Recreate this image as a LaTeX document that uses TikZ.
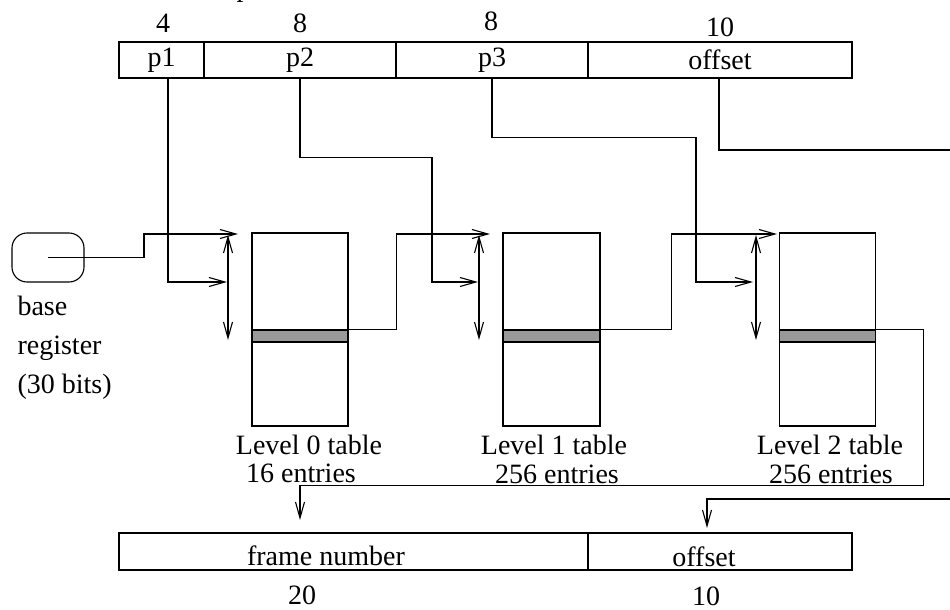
\documentclass[tikz,border=0pt]{standalone}
\usepackage{fontspec}
\setmainfont{Liberation Serif}
\usetikzlibrary{arrows.meta,positioning}

\begin{document}
\begin{tikzpicture}[x=1pt,y=-1pt,>={Straight Barb[length=16pt,width=9pt]},line width=1.1pt,
  fld/.style={draw,minimum height=36pt,inner sep=0pt,font=\fontsize{28}{29}\selectfont},
  tbl/.style={draw,minimum width=96pt,minimum height=193pt,inner sep=0pt},
  row/.style={draw,fill=black!40,minimum width=96pt,minimum height=12pt,inner sep=0pt},
  lbl/.style={font=\fontsize{28}{29}\selectfont,inner sep=0pt,anchor=base}]
\useasboundingbox (0,0) rectangle (950,610);
\node[lbl,anchor=base west] (ttl) at (236,-3) {p};
% virtual address
\node[fld,minimum width=85pt] (p1f) at (161.5,60) {p1};
\node[fld,minimum width=192pt] (p2f) at (300,60) {p2};
\node[fld,minimum width=192pt] (p3f) at (492,60) {p3};
\node[fld,minimum width=264pt] (offf) at (720,60) {offset};
\node[lbl] (w1) at (163,33) {4};
\node[lbl] (w2) at (300,33) {8};
\node[lbl] (w3) at (491,31) {8};
\node[lbl] (w4) at (720,37) {10};
% base register
\node[draw,rounded corners=15pt,minimum width=72pt,minimum height=49pt,inner sep=0pt] (base) at (48,257.5) {};
\node[lbl,anchor=base west] (bl1) at (17,315) {base};
\node[lbl,anchor=base west] (bl2) at (17,354) {register};
\node[lbl,anchor=base west] (bl3) at (17,393) {(30 bits)};
% tables
\node[tbl] (t0) at (300,329.5) {};
\node[tbl,minimum width=97pt] (t1) at (551.5,329.5) {};
\node[tbl] (t2) at (827.5,329.5) {};
\node[row] (e0) at (300,336) {};
\node[row,minimum width=97pt] (e1) at (551.5,336) {};
\node[row] (e2) at (827.5,336) {};
\node[lbl] (l0a) at (309,454) {Level 0 table};
\node[lbl] (l0b) at (301,482) {16 entries};
\node[lbl] (l1a) at (554,454) {Level 1 table};
\node[lbl] (l1b) at (557,483) {256 entries};
\node[lbl] (l2a) at (830,454) {Level 2 table};
\node[lbl] (l2b) at (831,483) {256 entries};
% physical address
\node[draw,minimum width=469pt,minimum height=37pt,inner sep=0pt] (fn) at (353.5,551.5) {};
\node[draw,minimum width=264pt,minimum height=37pt,inner sep=0pt] (fo) at (720,551.5) {};
\node[lbl] (fnt) at (326,565) {frame number};
\node[lbl] (fot) at (704,566) {offset};
\node[lbl] (w5) at (302,604) {20};
\node[lbl] (w6) at (706,605) {10};
% arrow ends
\coordinate (in0) at (238,234);
\coordinate (a0) at (227,282);
\coordinate (d0t) at (228,235);
\coordinate (d0b) at (228,340);
\coordinate (in1) at (490,234);
\coordinate (a1) at (478,282);
\coordinate (d1t) at (479,235);
\coordinate (d1b) at (479,340);
\coordinate (in2) at (777,234);
\coordinate (a2) at (753,282);
\coordinate (d2t) at (756,235);
\coordinate (d2b) at (756,340);
\coordinate (r1) at (958,150);
\coordinate (r2) at (958,499);
\coordinate (ff) at (300,520);
\coordinate (fd) at (707,528);
\draw[->] (base.center) -- ++(96,0) |- (in0);
\draw[->] ([xshift=6.5pt]p1f.south) |- (a0);
\draw[<->] (d0t) -- (d0b);
\draw[->] (e0.north east) -- ++(48,0) |- (in1);
\draw[->] (p2f.south) -- ++(0,79) -- ++(132,0) |- (a1);
\draw[<->] (d1t) -- (d1b);
\draw[->] (e1.north east) -- ++(71,0) |- (in2);
\draw[->] (p3f.south) -- ++(0,59) -- ++(204,0) |- (a2);
\draw[<->] (d2t) -- (d2b);
\draw[->] (e2.north east) -- ++(47,0) -- ++(0,156) -| (ff);
\draw[->] ([xshift=-1pt]offf.south) |- (r1) -- (r2) -| (fd);
\end{tikzpicture}
\end{document}
